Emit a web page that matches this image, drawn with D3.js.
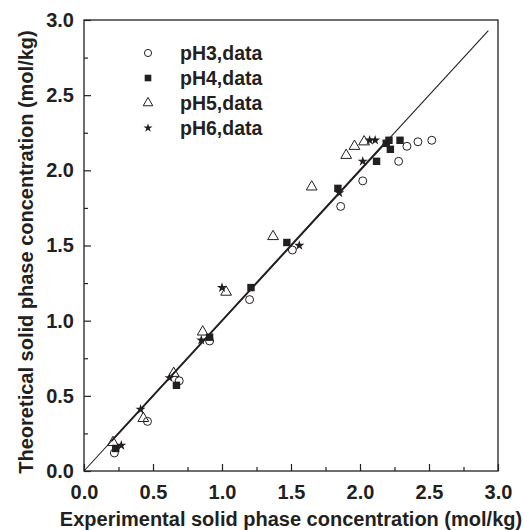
<!DOCTYPE html>
<html>
<head>
<meta charset="utf-8">
<script src="https://cdn.jsdelivr.net/npm/d3@7"></script>
<style>
  body { margin: 0; background: #fff; }
  text { font-family: "Liberation Sans", Arial, sans-serif; font-weight: bold; fill: #231f20; }
</style>
</head>
<body>
<script>
var seriesNames = ["pH3,data", "pH4,data", "pH5,data", "pH6,data"];

var pH3 = [[0.22,0.12],[0.46,0.33],[0.69,0.60],[0.91,0.865],[1.20,1.14],[1.51,1.47],
           [1.86,1.76],[2.02,1.93],[2.28,2.06],[2.34,2.16],[2.42,2.19],[2.52,2.20]];
var pH4 = [[0.23,0.15],[0.67,0.57],[0.91,0.89],[1.21,1.22],[1.47,1.52],[1.84,1.88],
           [2.12,2.06],[2.19,2.18],[2.21,2.20],[2.22,2.14],[2.29,2.20]];
var pH5 = [[0.21,0.19],[0.43,0.35],[0.65,0.65],[0.86,0.925],[1.03,1.19],[1.37,1.56],
           [1.65,1.89],[1.90,2.10],[1.96,2.16],[2.03,2.19]];
var pH6 = [[0.27,0.17],[0.41,0.41],[0.62,0.62],[0.85,0.87],[1.00,1.22],[1.56,1.50],
           [1.85,1.85],[2.02,2.06],[2.07,2.20],[2.11,2.20]];

var diagLine = [[0, 0], [2.93, 2.93]];
var modelLine = [[0.2, 0.2], [2.2, 2.2]];

var majorTicks = [0, 0.5, 1.0, 1.5, 2.0, 2.5, 3.0];
var minorTicks = [0.25, 0.75, 1.25, 1.75, 2.25, 2.75];

var width = 524, height = 530;
var plotL = 84, plotR = 498, plotT = 20, plotB = 471;

var svg = d3.select("body").append("svg")
  .attr("width", width)
  .attr("height", height);

var x = d3.scaleLinear().domain([0, 3]).range([plotL, plotR]);
var y = d3.scaleLinear().domain([0, 3]).range([plotB, plotT]);

// frame
svg.append("rect")
  .attr("x", plotL).attr("y", plotT)
  .attr("width", plotR - plotL).attr("height", plotB - plotT)
  .attr("fill", "none").attr("stroke", "#231f20").attr("stroke-width", 1.3);

// axes, ticks pointing inward
var xAxis = svg.append("g").attr("transform", "translate(0," + plotB + ")")
  .call(d3.axisBottom(x).tickValues(majorTicks).tickFormat(d3.format(".1f")).tickSizeInner(-7).tickSizeOuter(0).tickPadding(11));
svg.append("g").attr("transform", "translate(0," + plotB + ")")
  .call(d3.axisBottom(x).tickValues(minorTicks).tickFormat("").tickSizeInner(-4).tickSizeOuter(0));

var yAxis = svg.append("g").attr("transform", "translate(" + plotL + ",0)")
  .call(d3.axisLeft(y).tickValues(majorTicks).tickFormat(d3.format(".1f")).tickSizeInner(-7).tickSizeOuter(0).tickPadding(10));
svg.append("g").attr("transform", "translate(" + plotL + ",0)")
  .call(d3.axisLeft(y).tickValues(minorTicks).tickFormat("").tickSizeInner(-4).tickSizeOuter(0));

svg.selectAll(".domain").remove();
svg.selectAll(".tick line").attr("stroke", "#231f20").attr("stroke-width", 1.2);
svg.selectAll(".tick text").style("font-size", "20px").attr("fill", "#231f20");
xAxis.selectAll(".tick text").attr("dy", "0.85em");

// axis titles
svg.append("text")
  .attr("x", 291).attr("y", 526)
  .attr("text-anchor", "middle")
  .style("font-size", "20px")
  .text("Experimental solid phase concentration (mol/kg)");

svg.append("text")
  .attr("transform", "translate(33,252) rotate(-90)")
  .attr("text-anchor", "middle")
  .style("font-size", "20px")
  .text("Theoretical solid phase concentration (mol/kg)");

// lines
var line = d3.line().x(function (d) { return x(d[0]); }).y(function (d) { return y(d[1]); });
svg.append("path").attr("d", line(diagLine))
  .attr("fill", "none").attr("stroke", "#231f20").attr("stroke-width", 1.1);
svg.append("path").attr("d", line(modelLine))
  .attr("fill", "none").attr("stroke", "#231f20").attr("stroke-width", 2);

// markers
var styles = [
  { data: pH3, type: d3.symbolCircle, size: 50, open: true },
  { data: pH4, type: d3.symbolSquare, size: 55, open: false },
  { data: pH5, type: d3.symbolTriangle, size: 50, open: true },
  { data: pH6, type: d3.symbolStar, size: 32, open: false }
];

styles.forEach(function (s) {
  svg.append("g").selectAll("path")
    .data(s.data)
    .enter().append("path")
    .attr("d", d3.symbol().type(s.type).size(s.size))
    .attr("transform", function (d) { return "translate(" + x(d[0]) + "," + y(d[1]) + ")"; })
    .attr("fill", s.open ? "none" : "#231f20")
    .attr("stroke", "#231f20")
    .attr("stroke-width", s.open ? 1 : 0);
});

// legend
var legend = svg.append("g");
seriesNames.forEach(function (name, i) {
  var ly = 53 + i * 25;
  var s = styles[i];
  legend.append("path")
    .attr("d", d3.symbol().type(s.type).size(s.size * 0.8))
    .attr("transform", "translate(148," + ly + ")")
    .attr("fill", s.open ? "none" : "#231f20")
    .attr("stroke", "#231f20")
    .attr("stroke-width", s.open ? 1 : 0);
  legend.append("text")
    .attr("x", 180).attr("y", ly)
    .attr("dy", "0.35em")
    .style("font-size", "19.5px")
    .text(name);
});
</script>
</body>
</html>
